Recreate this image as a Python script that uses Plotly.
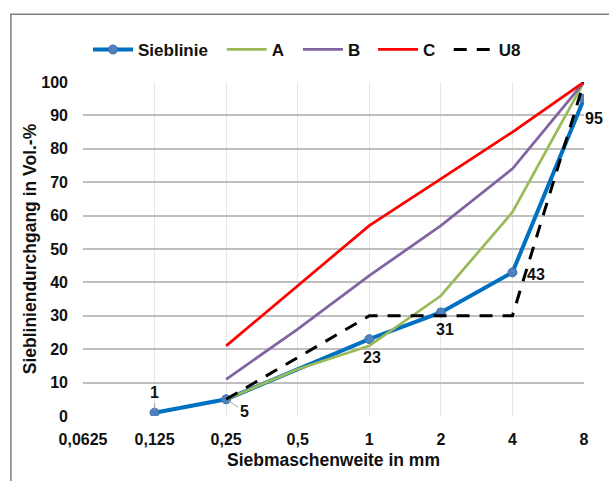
import math
import plotly.graph_objects as go

# Sieve sizes (mm) and tick labels
sieve = [0.0625, 0.125, 0.25, 0.5, 1, 2, 4, 8]
tick_labels = ["0,0625", "0,125", "0,25", "0,5", "1", "2", "4", "8"]

# Passing percentages (Vol.-%)
sieblinie = [None, 1, 5, None, 23, 31, 43, 95]
curve_a = [None, None, 5, 14, 21, 36, 61, 100]
curve_b = [None, None, 11, 26, 42, 57, 74, 100]
curve_c = [None, None, 21, 39, 57, 71, 85, 100]
curve_u8 = [None, None, 5, None, 30, 30, 30, 100]

FONT = "Arial, Liberation Sans, sans-serif"
INK = "#111111"

fig = go.Figure()

fig.add_trace(go.Scatter(x=sieve, y=sieblinie, name="<b>Sieblinie</b>", mode="lines+markers",
                         connectgaps=True, legend="legend",
                         line=dict(color="#0070C0", width=4),
                         marker=dict(size=9, color="#4F81BD", line=dict(color="#3A6FB0", width=1))))
fig.add_trace(go.Scatter(x=sieve, y=curve_a, name="<b>A</b>", mode="lines", legend="legend2",
                         line=dict(color="#9BBB59", width=2.75)))
fig.add_trace(go.Scatter(x=sieve, y=curve_b, name="<b>B</b>", mode="lines", legend="legend3",
                         line=dict(color="#8064A2", width=2.75)))
fig.add_trace(go.Scatter(x=sieve, y=curve_c, name="<b>C</b>", mode="lines", legend="legend4",
                         line=dict(color="#FF0000", width=2.75)))
fig.add_trace(go.Scatter(x=sieve, y=curve_u8, name="<b>U8</b>", mode="lines", connectgaps=True,
                         legend="legend5",
                         line=dict(color="#000000", width=3, dash="13px,10px")))

# Value labels for the Sieblinie points (x offset, y offset in px, leader line)
label_pos = {
    1: dict(arrow=True, ax=0, ay=-20),
    2: dict(arrow=True, ax=18, ay=12),
    4: dict(arrow=False, xs=3, ys=-18),
    5: dict(arrow=False, xs=4, ys=-17),
    6: dict(arrow=False, xs=24, ys=-2),
    7: dict(arrow=False, xs=10, ys=-20),
}
label_font = dict(family=FONT, size=16, color=INK)
annotations = []
for i, p in label_pos.items():
    v = sieblinie[i]
    a = dict(x=math.log10(sieve[i]), y=v, xref="x", yref="y", text=f"<b>{v}</b>", font=label_font)
    if p["arrow"]:
        a.update(showarrow=True, arrowhead=0, arrowwidth=1, arrowcolor="#A6A6A6",
                 ax=p["ax"], ay=p["ay"], standoff=3)
    else:
        a.update(showarrow=False, xshift=p["xs"], yshift=p["ys"])
    annotations.append(a)

legend_font = dict(family=FONT, size=17, color=INK)
legend_common = dict(orientation="h", xanchor="left", y=1.096, yanchor="middle",
                     font=legend_font, bgcolor="rgba(0,0,0,0)", itemwidth=40)
legend_x = [0.010, 0.277, 0.429, 0.579, 0.730]

fig.update_layout(
    width=609, height=481,
    margin=dict(l=83, r=25, t=82, b=65),
    paper_bgcolor="white", plot_bgcolor="white",
    font=dict(family=FONT, size=16, color=INK),
    showlegend=True,
    legend=dict(x=legend_x[0], **legend_common),
    legend2=dict(x=legend_x[1], **legend_common),
    legend3=dict(x=legend_x[2], **legend_common),
    legend4=dict(x=legend_x[3], **legend_common),
    legend5=dict(x=legend_x[4], **legend_common),
    annotations=annotations,
    shapes=[dict(type="rect", xref="paper", yref="paper",
                 x0=-0.144, x1=1.2, y0=-0.5, y1=1.203,
                 line=dict(color="#7F7F7F", width=1.5), layer="above")],
)

fig.update_xaxes(
    type="log", range=[math.log10(sieve[0]), math.log10(sieve[-1])],
    tickvals=sieve, ticktext=tick_labels, ticks="", ticklabelstandoff=12,
    showgrid=True, gridcolor="#E6E6E6", gridwidth=1,
    showline=False, zeroline=False,
    tickfont=dict(family=FONT, size=16, color=INK, weight="bold"),
    title=dict(text="<b>Siebmaschenweite in mm</b>", font=dict(family=FONT, size=17.5, color=INK),
               standoff=6),
)
fig.update_yaxes(
    range=[0, 100], dtick=10, ticks="", ticklabelstandoff=14,
    showgrid=True, gridcolor="#BFBFBF", gridwidth=1.5,
    showline=False, zeroline=False,
    tickfont=dict(family=FONT, size=16, color=INK, weight="bold"),
    title=dict(text="<b>Siebliniendurchgang in Vol.-%</b>", font=dict(family=FONT, size=17.5, color=INK),
               standoff=0),
)

fig.write_html("out.html")
